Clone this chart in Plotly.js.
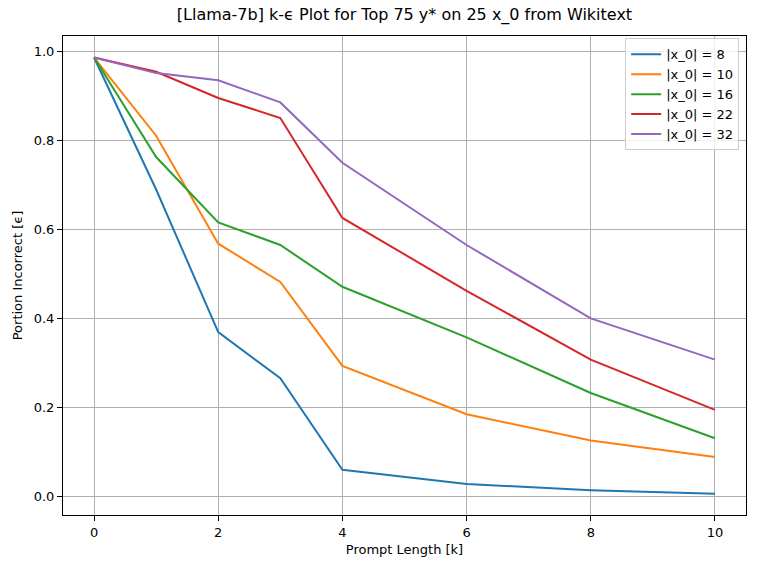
<!DOCTYPE html>
<html>
<head>
<meta charset="utf-8">
<script src="https://cdn.plot.ly/plotly-3.0.1.min.js"></script>
<style>html,body{margin:0;padding:0;background:#fff;}#chart{width:761px;height:571px;}</style>
</head>
<body>
<div id="chart"></div>
<script>
const promptLengths = [0, 1, 2, 3, 4, 6, 8, 10];
const seriesNames = ["|x_0| = 8", "|x_0| = 10", "|x_0| = 16", "|x_0| = 22", "|x_0| = 32"];
const x0_8  = [0.987, 0.690, 0.369, 0.265, 0.059, 0.027, 0.013, 0.005];
const x0_10 = [0.987, 0.811, 0.568, 0.482, 0.293, 0.184, 0.125, 0.088];
const x0_16 = [0.987, 0.763, 0.616, 0.565, 0.471, 0.357, 0.232, 0.130];
const x0_22 = [0.987, 0.955, 0.896, 0.851, 0.626, 0.462, 0.307, 0.194];
const x0_32 = [0.987, 0.952, 0.936, 0.886, 0.750, 0.565, 0.400, 0.307];
const colors = ["#1f77b4", "#ff7f0e", "#2ca02c", "#d62728", "#9467bd"];
const allSeries = [x0_8, x0_10, x0_16, x0_22, x0_32];

const font = "DejaVu Sans, sans-serif";
const traces = allSeries.map((ys, i) => ({
  x: promptLengths, y: ys, type: "scatter", mode: "lines",
  name: seriesNames[i], line: {color: colors[i], width: 2}
}));

const axisCommon = {
  showgrid: true, gridcolor: "#b0b0b0", gridwidth: 1,
  zeroline: false, showline: true, linecolor: "#000", linewidth: 1, mirror: true,
  ticks: "outside", ticklen: 5, tickwidth: 1, tickcolor: "#000",
  tickfont: {family: font, size: 13, color: "#000"}
};

const layout = {
  width: 761, height: 571,
  paper_bgcolor: "#fff", plot_bgcolor: "#fff",
  margin: {l: 63, r: 15, t: 36, b: 56},
  title: {text: "[Llama-7b] k-ϵ Plot for Top 75 y* on 25 x_0 from Wikitext",
          font: {family: font, size: 16, color: "#000"}, x: 0.5315, xanchor: "center", y: 0.975, yanchor: "middle"},
  xaxis: Object.assign({}, axisCommon, {
    range: [-0.5, 10.5], tickvals: [0, 2, 4, 6, 8, 10],
    title: {text: "Prompt Length [k]", font: {family: font, size: 13, color: "#000"}, standoff: 6}
  }),
  yaxis: Object.assign({}, axisCommon, {
    range: [-0.0427, 1.0355], tickvals: [0, 0.2, 0.4, 0.6, 0.8, 1.0], tickformat: ".1f",
    title: {text: "Portion Incorrect [ϵ]", font: {family: font, size: 13, color: "#000"}, standoff: 8}
  }),
  legend: {
    x: 0.99, xanchor: "right", y: 0.995, yanchor: "top",
    bgcolor: "rgba(255,255,255,0.8)", bordercolor: "#cccccc", borderwidth: 1,
    font: {family: font, size: 13, color: "#000"}, tracegroupgap: 0
  },
  showlegend: true
};

Plotly.newPlot("chart", traces, layout, {displayModeBar: false, staticPlot: true});
</script>
</body>
</html>
